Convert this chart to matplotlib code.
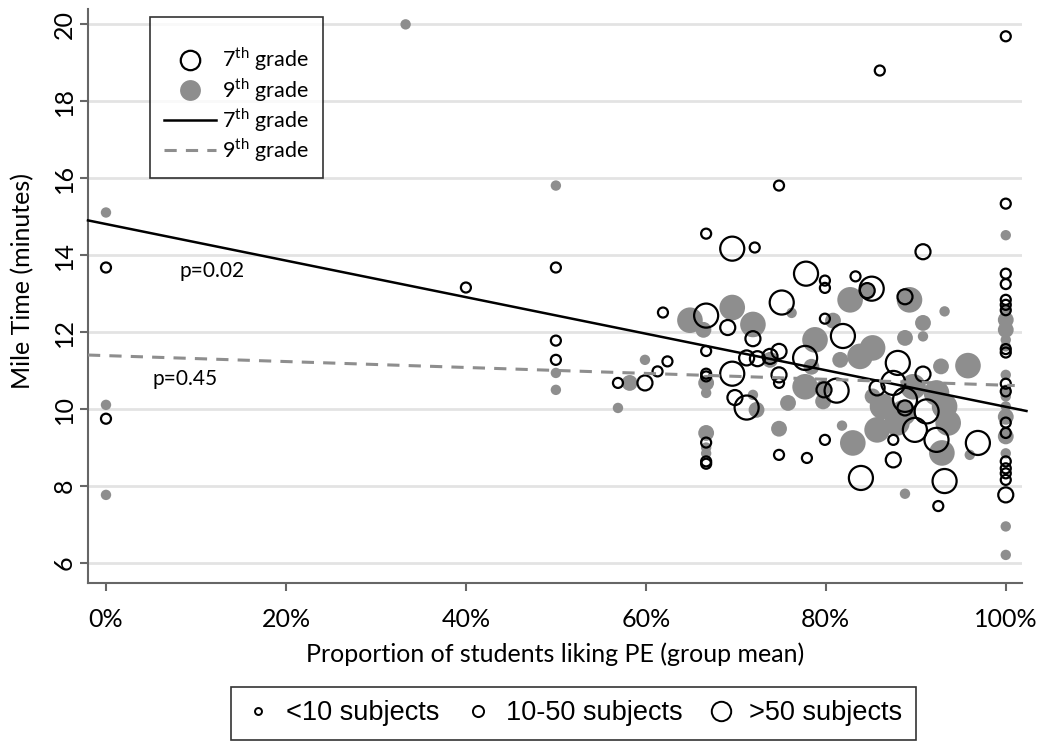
#!/usr/bin/env python3

import matplotlib.pyplot as plt
from matplotlib.lines import Line2D
from matplotlib.ticker import PercentFormatter
import numpy as np

plt.rcParams['font.family'] = ['Lato', 'DejaVu Sans']
plt.rcParams['mathtext.fontset'] = 'custom'
plt.rcParams['mathtext.rm'] = 'Lato'

# 7th grade groups: % liking PE, mile time, size class (0 <10, 1 10-50, 2 >50)
g7_pct = [0, 0, 40, 50, 50, 50, 56.9, 59.9, 61.3, 62.4, 61.9,
          66.7, 66.7, 66.7, 66.7, 66.7, 66.7, 66.7, 66.7,
          69.6, 72.1, 69.1, 69.6, 69.9, 71.2, 71.9, 71.2, 72.4, 73.8,
          74.8, 74.8, 74.8, 74.8, 74.8, 75.1, 77.8, 77.7, 77.9,
          79.9, 79.9, 79.9, 79.9, 79.8, 81.2, 81.9, 83.3, 84.6, 85.1,
          83.9, 85.7, 86.0, 87.5, 87.5, 87.5, 88.0, 88.8, 88.8, 88.8,
          89.9, 90.8, 90.8, 91.2, 92.3, 92.5, 93.2, 96.9,
          100, 100, 100, 100, 100, 100, 100, 100, 100, 100, 100,
          100, 100, 100, 100, 100, 100, 100]
g7_time = [13.68, 9.75, 13.16, 13.68, 11.78, 11.28, 10.68, 10.68, 10.98, 11.24, 12.51,
           14.56, 12.43, 11.51, 10.92, 10.85, 9.13, 8.64, 8.58,
           14.17, 14.20, 12.12, 10.92, 10.30, 10.04, 11.83, 11.33, 11.31, 11.37,
           11.50, 10.89, 10.68, 15.81, 8.81, 12.77, 13.52, 11.33, 8.73,
           13.34, 13.15, 12.35, 9.20, 10.50, 10.48, 11.90, 13.45, 13.08, 13.13,
           8.21, 10.55, 18.80, 10.68, 9.20, 8.68, 11.20, 12.92, 10.24, 10.03,
           9.46, 14.09, 10.91, 9.94, 9.20, 7.48, 8.13, 9.12,
           19.69, 15.34, 13.52, 13.25, 12.84, 12.71, 12.57, 11.56, 11.47, 10.66, 10.46,
           9.65, 9.38, 8.64, 8.46, 8.33, 8.16, 7.77]
g7_cls = [0, 0, 0, 0, 0, 0, 0, 1, 0, 0, 0,
          0, 2, 0, 0, 0, 0, 0, 0,
          2, 0, 1, 2, 1, 2, 1, 1, 1, 1,
          1, 1, 0, 0, 0, 2, 2, 2, 0,
          0, 0, 0, 0, 1, 2, 2, 0, 1, 2,
          2, 1, 0, 2, 0, 1, 2, 1, 2, 1,
          2, 1, 1, 2, 2, 0, 2, 2,
          0, 0, 0, 0, 0, 0, 0, 0, 0, 0, 0,
          0, 0, 0, 0, 0, 0, 1]

# 9th grade groups
g9_pct = [0, 0, 0, 33.3, 50, 50, 50, 56.9, 58.2, 59.9, 64.9, 66.4,
          66.7, 66.7, 66.7, 66.7, 66.7, 69.6, 71.9, 71.9, 72.3, 73.8, 74.8,
          75.8, 76.2, 77.7, 78.4, 78.8, 79.7, 79.7, 80.8, 81.6, 81.8, 82.7,
          83.0, 83.8, 84.6, 85.2, 85.2, 85.7, 86.3, 87.9, 88.6, 88.8, 88.8,
          89.3, 89.7, 90.8, 90.8, 92.3, 92.8, 92.9, 93.2, 93.2, 93.6, 95.8, 96.0,
          100, 100, 100, 100, 100, 100, 100, 100, 100, 100, 100, 100, 100, 100, 100]
g9_time = [15.11, 10.11, 7.77, 20.0, 15.81, 10.94, 10.50, 10.03, 10.68, 11.28, 12.31, 12.06,
           10.68, 10.42, 9.38, 9.00, 8.85, 12.64, 12.20, 10.37, 9.98, 11.28, 9.49,
           10.16, 12.50, 10.58, 11.10, 11.80, 10.55, 10.20, 12.30, 11.28, 9.57, 12.84,
           9.12, 11.37, 13.06, 11.59, 10.33, 9.46, 10.07, 9.64, 9.90, 11.85, 7.80,
           12.84, 10.58, 12.24, 11.89, 10.42, 11.11, 8.86, 12.54, 10.07, 9.64, 11.13, 8.81,
           14.52, 12.58, 12.32, 12.06, 11.80, 11.63, 10.89, 10.50, 10.33, 10.07, 9.80,
           9.29, 8.85, 6.95, 6.21]
g9_cls = [0, 0, 0, 0, 0, 0, 0, 0, 1, 0, 2, 1,
          1, 0, 1, 0, 0, 2, 2, 0, 1, 1, 1,
          1, 0, 2, 1, 2, 1, 1, 1, 1, 0, 2,
          2, 2, 1, 2, 1, 2, 2, 2, 2, 1, 0,
          2, 2, 1, 0, 2, 1, 2, 0, 2, 2, 2, 0,
          0, 0, 1, 1, 0, 0, 0, 0, 0, 0, 1,
          1, 0, 0, 0]

# regression fits: intercept at 0%, change over 0..100%
fit7 = (14.81, -4.75)
fit9 = (11.39, -0.77)
p_text = ["p=0.02", "p=0.45"]

size_labels = ["<10 subjects", "10-50 subjects", ">50 subjects"]

gray = '#8e8e8e'
s7 = np.array([52, 117, 300])
s9 = np.array([56, 130, 340])

fig = plt.figure()
fig.set_size_inches(10.5, 7.48)
ax = fig.add_axes([0.0838, 0.2206, 0.8895, 0.7674])

ax.scatter(g9_pct, g9_time, s=s9[g9_cls], color=gray, edgecolors='none', zorder=2)
ax.scatter(g7_pct, g7_time, s=s7[g7_cls], facecolors='none', edgecolors='black',
           linewidths=1.6, zorder=3)

xl = np.array([-2.0, 102.3])
ax.plot(xl, fit7[0] + fit7[1] * xl / 100, color='black', lw=1.8, zorder=4, clip_on=False)
x9 = np.array([-2.0, 101.0])
ax.plot(x9, fit9[0] + fit9[1] * x9 / 100, color=gray, lw=2.2, ls=(0, (4, 3)), zorder=4)

ax.text(11.8, 13.6, p_text[0], fontsize=15, ha='center', va='center')
ax.text(8.8, 10.79, p_text[1], fontsize=15, ha='center', va='center')

ax.set_xlim(-2.0, 101.8)
ax.set_ylim(5.48, 20.4)
ax.set_xticks([0, 20, 40, 60, 80, 100])
ax.xaxis.set_major_formatter(PercentFormatter(100, decimals=0))
ax.set_yticks(range(6, 21, 2))
ax.yaxis.grid(True, color='#e3e3e3', lw=2)
ax.set_axisbelow(True)
for s in ['top', 'right']:
    ax.spines[s].set_visible(False)
for s in ['left', 'bottom']:
    ax.spines[s].set_color('#666666')
    ax.spines[s].set_linewidth(1.5)
ax.tick_params(colors='#666666', labelcolor='black', length=6, width=1.5, labelsize=18)
ax.tick_params(axis='y', labelrotation=90, pad=3)
for lbl in ax.get_yticklabels():
    lbl.set_va('center')
ax.tick_params(axis='x', pad=12)

ax.set_xlabel("Proportion of students liking PE (group mean)", fontsize=18, labelpad=8)
ax.set_ylabel("Mile Time (minutes)", fontsize=18)
ax.yaxis.set_label_coords(-0.057, 0.526)

handles = [
    Line2D([], [], ls='none', marker='o', ms=14, mfc='white', mec='black', mew=1.6),
    Line2D([], [], ls='none', marker='o', ms=15, mfc=gray, mec='none'),
    Line2D([], [], color='black', lw=1.8),
    Line2D([], [], color=gray, lw=2.2, ls=(0, (4, 3))),
]
labels = ["7$^{\\mathrm{th}}$ grade", "9$^{\\mathrm{th}}$ grade",
          "7$^{\\mathrm{th}}$ grade", "9$^{\\mathrm{th}}$ grade"]
leg = fig.legend(handles, labels, loc='upper left', bbox_to_anchor=(0.143, 0.977),
                 borderaxespad=0, fontsize=15.5, title=" ", title_fontsize=10,
                 frameon=True, fancybox=False,
                 handlelength=2.4, handletextpad=0.3, labelspacing=0.12,
                 borderpad=0.65, markerfirst=True)
leg.get_frame().set_edgecolor('black')
leg.get_frame().set_linewidth(1.2)
leg._legend_box.align = "right"

bh = [Line2D([], [], ls='none', marker='o', ms=m, mfc='none', mec='black', mew=1.4)
      for m in [5, 8, 14]]
leg2 = fig.legend(bh, size_labels, loc='lower center', bbox_to_anchor=(0.546, 0.011),
                  borderaxespad=0, ncol=3, frameon=True, fancybox=False,
                  handlelength=1.0, handletextpad=0.55, columnspacing=0.9,
                  borderpad=0.5, prop={'family': 'Liberation Sans', 'size': 19.5})
leg2.get_frame().set_edgecolor('black')
leg2.get_frame().set_linewidth(1.2)

fig.savefig('out.png', dpi=100)
